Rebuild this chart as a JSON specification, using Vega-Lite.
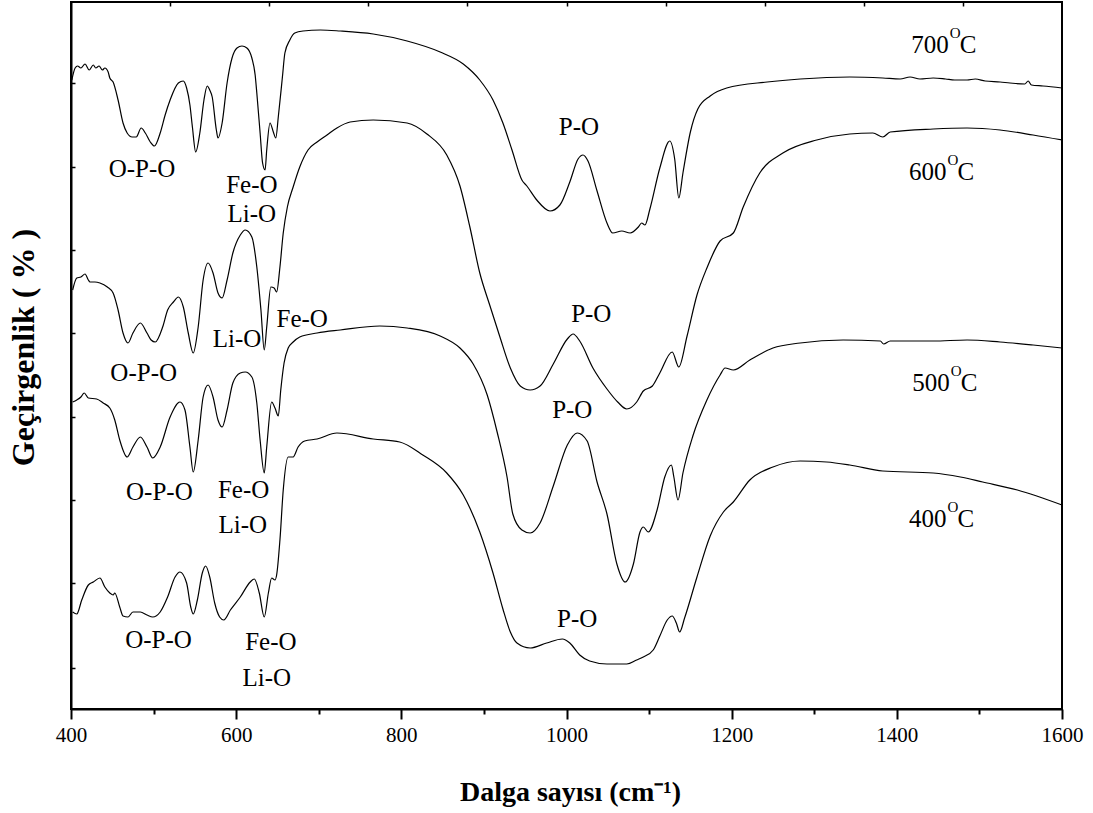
{
  "$schema": "https://vega.github.io/schema/vega-lite/v6.json",
  "width": 991,
  "height": 707,
  "autosize": {"type": "none"},
  "padding": {"left": 71, "top": 2, "right": 31, "bottom": 104},
  "background": "white",
  "config": {
    "view": {"stroke": "black", "strokeWidth": 2},
    "axis": {"grid": false},
    "font": "Liberation Serif"
  },
  "datasets": {
    "spectra": [
      {"wn":401,"T":629,"sample":"700"},{"wn":405,"T":641,"sample":"700"},{"wn":408,"T":643,"sample":"700"},{"wn":412,"T":641,"sample":"700"},{"wn":417,"T":645,"sample":"700"},{"wn":422,"T":639,"sample":"700"},{"wn":427,"T":644,"sample":"700"},{"wn":430,"T":641,"sample":"700"},{"wn":434,"T":643,"sample":"700"},{"wn":438,"T":639,"sample":"700"},{"wn":441,"T":641,"sample":"700"},{"wn":445,"T":637,"sample":"700"},{"wn":447,"T":631,"sample":"700"},{"wn":451,"T":627,"sample":"700"},{"wn":457,"T":609,"sample":"700"},{"wn":463,"T":586,"sample":"700"},{"wn":468,"T":576,"sample":"700"},{"wn":474,"T":572,"sample":"700"},{"wn":479,"T":572,"sample":"700"},{"wn":485,"T":581,"sample":"700"},{"wn":490,"T":576,"sample":"700"},{"wn":496,"T":567,"sample":"700"},{"wn":501,"T":563,"sample":"700"},{"wn":508,"T":576,"sample":"700"},{"wn":514,"T":594,"sample":"700"},{"wn":520,"T":609,"sample":"700"},{"wn":530,"T":626,"sample":"700"},{"wn":536,"T":628,"sample":"700"},{"wn":540,"T":621,"sample":"700"},{"wn":544,"T":604,"sample":"700"},{"wn":547,"T":582,"sample":"700"},{"wn":551,"T":557,"sample":"700"},{"wn":556,"T":576,"sample":"700"},{"wn":561,"T":609,"sample":"700"},{"wn":565,"T":623,"sample":"700"},{"wn":568,"T":619,"sample":"700"},{"wn":571,"T":612,"sample":"700"},{"wn":576,"T":579,"sample":"700"},{"wn":578,"T":571,"sample":"700"},{"wn":583,"T":586,"sample":"700"},{"wn":589,"T":626,"sample":"700"},{"wn":595,"T":651,"sample":"700"},{"wn":601,"T":661,"sample":"700"},{"wn":607,"T":663,"sample":"700"},{"wn":613,"T":661,"sample":"700"},{"wn":619,"T":651,"sample":"700"},{"wn":623,"T":634,"sample":"700"},{"wn":625,"T":616,"sample":"700"},{"wn":629,"T":576,"sample":"700"},{"wn":632,"T":546,"sample":"700"},{"wn":635,"T":539,"sample":"700"},{"wn":637,"T":559,"sample":"700"},{"wn":641,"T":586,"sample":"700"},{"wn":645,"T":577,"sample":"700"},{"wn":648,"T":571,"sample":"700"},{"wn":651,"T":592,"sample":"700"},{"wn":656,"T":632,"sample":"700"},{"wn":659,"T":656,"sample":"700"},{"wn":665,"T":669,"sample":"700"},{"wn":671,"T":676,"sample":"700"},{"wn":681,"T":678,"sample":"700"},{"wn":702,"T":679,"sample":"700"},{"wn":726,"T":678,"sample":"700"},{"wn":766,"T":675,"sample":"700"},{"wn":807,"T":668,"sample":"700"},{"wn":847,"T":657,"sample":"700"},{"wn":875,"T":645,"sample":"700"},{"wn":895,"T":629,"sample":"700"},{"wn":911,"T":609,"sample":"700"},{"wn":923,"T":586,"sample":"700"},{"wn":934,"T":559,"sample":"700"},{"wn":946,"T":529,"sample":"700"},{"wn":952,"T":523,"sample":"700"},{"wn":964,"T":509,"sample":"700"},{"wn":980,"T":498,"sample":"700"},{"wn":992,"T":504,"sample":"700"},{"wn":1004,"T":527,"sample":"700"},{"wn":1014,"T":550,"sample":"700"},{"wn":1020,"T":554,"sample":"700"},{"wn":1026,"T":548,"sample":"700"},{"wn":1037,"T":518,"sample":"700"},{"wn":1049,"T":486,"sample":"700"},{"wn":1056,"T":476,"sample":"700"},{"wn":1067,"T":478,"sample":"700"},{"wn":1077,"T":476,"sample":"700"},{"wn":1087,"T":482,"sample":"700"},{"wn":1091,"T":486,"sample":"700"},{"wn":1095,"T":484,"sample":"700"},{"wn":1101,"T":500,"sample":"700"},{"wn":1113,"T":541,"sample":"700"},{"wn":1125,"T":568,"sample":"700"},{"wn":1131,"T":550,"sample":"700"},{"wn":1136,"T":511,"sample":"700"},{"wn":1141,"T":536,"sample":"700"},{"wn":1150,"T":577,"sample":"700"},{"wn":1159,"T":600,"sample":"700"},{"wn":1174,"T":613,"sample":"700"},{"wn":1194,"T":621,"sample":"700"},{"wn":1243,"T":627,"sample":"700"},{"wn":1283,"T":630,"sample":"700"},{"wn":1343,"T":632,"sample":"700"},{"wn":1383,"T":631,"sample":"700"},{"wn":1404,"T":630,"sample":"700"},{"wn":1416,"T":632,"sample":"700"},{"wn":1428,"T":630,"sample":"700"},{"wn":1444,"T":631,"sample":"700"},{"wn":1459,"T":630,"sample":"700"},{"wn":1470,"T":629,"sample":"700"},{"wn":1485,"T":629,"sample":"700"},{"wn":1495,"T":630,"sample":"700"},{"wn":1507,"T":628,"sample":"700"},{"wn":1525,"T":627,"sample":"700"},{"wn":1537,"T":626,"sample":"700"},{"wn":1555,"T":625,"sample":"700"},{"wn":1559,"T":628,"sample":"700"},{"wn":1563,"T":624,"sample":"700"},{"wn":1577,"T":623,"sample":"700"},{"wn":1600,"T":621,"sample":"700"},

      {"wn":402,"T":419,"sample":"600"},{"wn":407,"T":431,"sample":"600"},{"wn":412,"T":432,"sample":"600"},{"wn":417,"T":435,"sample":"600"},{"wn":421,"T":429,"sample":"600"},{"wn":423,"T":427,"sample":"600"},{"wn":429,"T":427,"sample":"600"},{"wn":435,"T":426,"sample":"600"},{"wn":444,"T":422,"sample":"600"},{"wn":451,"T":416,"sample":"600"},{"wn":457,"T":399,"sample":"600"},{"wn":463,"T":376,"sample":"600"},{"wn":469,"T":366,"sample":"600"},{"wn":475,"T":376,"sample":"600"},{"wn":484,"T":386,"sample":"600"},{"wn":492,"T":376,"sample":"600"},{"wn":497,"T":369,"sample":"600"},{"wn":502,"T":367,"sample":"600"},{"wn":511,"T":382,"sample":"600"},{"wn":517,"T":399,"sample":"600"},{"wn":524,"T":407,"sample":"600"},{"wn":530,"T":412,"sample":"600"},{"wn":536,"T":402,"sample":"600"},{"wn":542,"T":376,"sample":"600"},{"wn":548,"T":356,"sample":"600"},{"wn":554,"T":382,"sample":"600"},{"wn":560,"T":429,"sample":"600"},{"wn":566,"T":446,"sample":"600"},{"wn":572,"T":436,"sample":"600"},{"wn":578,"T":416,"sample":"600"},{"wn":583,"T":411,"sample":"600"},{"wn":589,"T":429,"sample":"600"},{"wn":596,"T":456,"sample":"600"},{"wn":605,"T":474,"sample":"600"},{"wn":611,"T":479,"sample":"600"},{"wn":619,"T":472,"sample":"600"},{"wn":625,"T":442,"sample":"600"},{"wn":630,"T":399,"sample":"600"},{"wn":634,"T":359,"sample":"600"},{"wn":637,"T":382,"sample":"600"},{"wn":642,"T":422,"sample":"600"},{"wn":646,"T":421,"sample":"600"},{"wn":649,"T":417,"sample":"600"},{"wn":653,"T":442,"sample":"600"},{"wn":657,"T":476,"sample":"600"},{"wn":662,"T":502,"sample":"600"},{"wn":669,"T":522,"sample":"600"},{"wn":677,"T":542,"sample":"600"},{"wn":687,"T":559,"sample":"600"},{"wn":698,"T":567,"sample":"600"},{"wn":710,"T":574,"sample":"600"},{"wn":722,"T":581,"sample":"600"},{"wn":738,"T":587,"sample":"600"},{"wn":766,"T":589,"sample":"600"},{"wn":807,"T":586,"sample":"600"},{"wn":831,"T":575,"sample":"600"},{"wn":855,"T":554,"sample":"600"},{"wn":871,"T":523,"sample":"600"},{"wn":883,"T":482,"sample":"600"},{"wn":895,"T":436,"sample":"600"},{"wn":907,"T":404,"sample":"600"},{"wn":919,"T":373,"sample":"600"},{"wn":932,"T":341,"sample":"600"},{"wn":944,"T":323,"sample":"600"},{"wn":956,"T":319,"sample":"600"},{"wn":968,"T":323,"sample":"600"},{"wn":984,"T":345,"sample":"600"},{"wn":1001,"T":370,"sample":"600"},{"wn":1008,"T":375,"sample":"600"},{"wn":1016,"T":368,"sample":"600"},{"wn":1032,"T":341,"sample":"600"},{"wn":1049,"T":320,"sample":"600"},{"wn":1062,"T":307,"sample":"600"},{"wn":1073,"T":300,"sample":"600"},{"wn":1085,"T":307,"sample":"600"},{"wn":1093,"T":318,"sample":"600"},{"wn":1104,"T":323,"sample":"600"},{"wn":1113,"T":336,"sample":"600"},{"wn":1128,"T":357,"sample":"600"},{"wn":1136,"T":342,"sample":"600"},{"wn":1146,"T":373,"sample":"600"},{"wn":1158,"T":414,"sample":"600"},{"wn":1170,"T":441,"sample":"600"},{"wn":1186,"T":468,"sample":"600"},{"wn":1202,"T":476,"sample":"600"},{"wn":1214,"T":502,"sample":"600"},{"wn":1234,"T":536,"sample":"600"},{"wn":1262,"T":556,"sample":"600"},{"wn":1303,"T":569,"sample":"600"},{"wn":1343,"T":575,"sample":"600"},{"wn":1371,"T":576,"sample":"600"},{"wn":1383,"T":572,"sample":"600"},{"wn":1392,"T":577,"sample":"600"},{"wn":1444,"T":580,"sample":"600"},{"wn":1485,"T":581,"sample":"600"},{"wn":1525,"T":579,"sample":"600"},{"wn":1565,"T":574,"sample":"600"},{"wn":1600,"T":569,"sample":"600"},

      {"wn":402,"T":307,"sample":"500"},{"wn":407,"T":309,"sample":"500"},{"wn":412,"T":312,"sample":"500"},{"wn":416,"T":316,"sample":"500"},{"wn":421,"T":311,"sample":"500"},{"wn":431,"T":310,"sample":"500"},{"wn":439,"T":306,"sample":"500"},{"wn":447,"T":301,"sample":"500"},{"wn":453,"T":289,"sample":"500"},{"wn":459,"T":269,"sample":"500"},{"wn":468,"T":252,"sample":"500"},{"wn":475,"T":262,"sample":"500"},{"wn":484,"T":272,"sample":"500"},{"wn":492,"T":262,"sample":"500"},{"wn":499,"T":251,"sample":"500"},{"wn":508,"T":262,"sample":"500"},{"wn":520,"T":292,"sample":"500"},{"wn":532,"T":307,"sample":"500"},{"wn":538,"T":299,"sample":"500"},{"wn":544,"T":262,"sample":"500"},{"wn":548,"T":237,"sample":"500"},{"wn":554,"T":269,"sample":"500"},{"wn":560,"T":312,"sample":"500"},{"wn":566,"T":324,"sample":"500"},{"wn":572,"T":312,"sample":"500"},{"wn":578,"T":289,"sample":"500"},{"wn":583,"T":282,"sample":"500"},{"wn":589,"T":299,"sample":"500"},{"wn":596,"T":326,"sample":"500"},{"wn":605,"T":336,"sample":"500"},{"wn":611,"T":337,"sample":"500"},{"wn":619,"T":332,"sample":"500"},{"wn":625,"T":306,"sample":"500"},{"wn":629,"T":269,"sample":"500"},{"wn":634,"T":236,"sample":"500"},{"wn":637,"T":262,"sample":"500"},{"wn":643,"T":307,"sample":"500"},{"wn":647,"T":301,"sample":"500"},{"wn":651,"T":293,"sample":"500"},{"wn":654,"T":319,"sample":"500"},{"wn":658,"T":346,"sample":"500"},{"wn":663,"T":361,"sample":"500"},{"wn":669,"T":367,"sample":"500"},{"wn":677,"T":372,"sample":"500"},{"wn":698,"T":376,"sample":"500"},{"wn":726,"T":379,"sample":"500"},{"wn":774,"T":383,"sample":"500"},{"wn":807,"T":381,"sample":"500"},{"wn":847,"T":373,"sample":"500"},{"wn":871,"T":361,"sample":"500"},{"wn":887,"T":345,"sample":"500"},{"wn":904,"T":314,"sample":"500"},{"wn":916,"T":277,"sample":"500"},{"wn":928,"T":232,"sample":"500"},{"wn":935,"T":195,"sample":"500"},{"wn":946,"T":179,"sample":"500"},{"wn":956,"T":176,"sample":"500"},{"wn":968,"T":186,"sample":"500"},{"wn":984,"T":223,"sample":"500"},{"wn":1001,"T":264,"sample":"500"},{"wn":1013,"T":276,"sample":"500"},{"wn":1025,"T":268,"sample":"500"},{"wn":1037,"T":227,"sample":"500"},{"wn":1049,"T":195,"sample":"500"},{"wn":1061,"T":145,"sample":"500"},{"wn":1071,"T":127,"sample":"500"},{"wn":1081,"T":145,"sample":"500"},{"wn":1089,"T":177,"sample":"500"},{"wn":1093,"T":182,"sample":"500"},{"wn":1099,"T":177,"sample":"500"},{"wn":1110,"T":200,"sample":"500"},{"wn":1119,"T":232,"sample":"500"},{"wn":1127,"T":244,"sample":"500"},{"wn":1130,"T":232,"sample":"500"},{"wn":1135,"T":209,"sample":"500"},{"wn":1141,"T":236,"sample":"500"},{"wn":1153,"T":273,"sample":"500"},{"wn":1170,"T":309,"sample":"500"},{"wn":1186,"T":334,"sample":"500"},{"wn":1192,"T":341,"sample":"500"},{"wn":1202,"T":339,"sample":"500"},{"wn":1222,"T":349,"sample":"500"},{"wn":1250,"T":361,"sample":"500"},{"wn":1283,"T":366,"sample":"500"},{"wn":1335,"T":369,"sample":"500"},{"wn":1380,"T":368,"sample":"500"},{"wn":1384,"T":365,"sample":"500"},{"wn":1392,"T":368,"sample":"500"},{"wn":1444,"T":368,"sample":"500"},{"wn":1485,"T":369,"sample":"500"},{"wn":1525,"T":367,"sample":"500"},{"wn":1565,"T":364,"sample":"500"},{"wn":1600,"T":361,"sample":"500"},

      {"wn":402,"T":97,"sample":"400"},{"wn":407,"T":95,"sample":"400"},{"wn":413,"T":109,"sample":"400"},{"wn":421,"T":124,"sample":"400"},{"wn":427,"T":127,"sample":"400"},{"wn":435,"T":131,"sample":"400"},{"wn":441,"T":122,"sample":"400"},{"wn":447,"T":116,"sample":"400"},{"wn":451,"T":114,"sample":"400"},{"wn":453,"T":116,"sample":"400"},{"wn":459,"T":102,"sample":"400"},{"wn":463,"T":93,"sample":"400"},{"wn":469,"T":92,"sample":"400"},{"wn":475,"T":97,"sample":"400"},{"wn":484,"T":97,"sample":"400"},{"wn":492,"T":94,"sample":"400"},{"wn":499,"T":92,"sample":"400"},{"wn":508,"T":97,"sample":"400"},{"wn":517,"T":112,"sample":"400"},{"wn":526,"T":132,"sample":"400"},{"wn":532,"T":137,"sample":"400"},{"wn":540,"T":126,"sample":"400"},{"wn":545,"T":102,"sample":"400"},{"wn":548,"T":95,"sample":"400"},{"wn":553,"T":109,"sample":"400"},{"wn":559,"T":136,"sample":"400"},{"wn":563,"T":143,"sample":"400"},{"wn":568,"T":132,"sample":"400"},{"wn":574,"T":106,"sample":"400"},{"wn":580,"T":92,"sample":"400"},{"wn":585,"T":89,"sample":"400"},{"wn":593,"T":99,"sample":"400"},{"wn":605,"T":112,"sample":"400"},{"wn":617,"T":127,"sample":"400"},{"wn":622,"T":130,"sample":"400"},{"wn":628,"T":116,"sample":"400"},{"wn":634,"T":92,"sample":"400"},{"wn":639,"T":116,"sample":"400"},{"wn":643,"T":131,"sample":"400"},{"wn":647,"T":129,"sample":"400"},{"wn":649,"T":134,"sample":"400"},{"wn":653,"T":169,"sample":"400"},{"wn":657,"T":219,"sample":"400"},{"wn":663,"T":252,"sample":"400"},{"wn":669,"T":252,"sample":"400"},{"wn":675,"T":262,"sample":"400"},{"wn":683,"T":268,"sample":"400"},{"wn":698,"T":270,"sample":"400"},{"wn":722,"T":276,"sample":"400"},{"wn":766,"T":270,"sample":"400"},{"wn":798,"T":267,"sample":"400"},{"wn":826,"T":254,"sample":"400"},{"wn":855,"T":236,"sample":"400"},{"wn":875,"T":214,"sample":"400"},{"wn":895,"T":177,"sample":"400"},{"wn":911,"T":136,"sample":"400"},{"wn":923,"T":100,"sample":"400"},{"wn":932,"T":77,"sample":"400"},{"wn":940,"T":66,"sample":"400"},{"wn":956,"T":61,"sample":"400"},{"wn":976,"T":66,"sample":"400"},{"wn":995,"T":70,"sample":"400"},{"wn":1004,"T":66,"sample":"400"},{"wn":1016,"T":54,"sample":"400"},{"wn":1028,"T":48,"sample":"400"},{"wn":1049,"T":45,"sample":"400"},{"wn":1073,"T":45,"sample":"400"},{"wn":1085,"T":49,"sample":"400"},{"wn":1093,"T":52,"sample":"400"},{"wn":1105,"T":59,"sample":"400"},{"wn":1113,"T":73,"sample":"400"},{"wn":1122,"T":89,"sample":"400"},{"wn":1128,"T":93,"sample":"400"},{"wn":1133,"T":86,"sample":"400"},{"wn":1137,"T":77,"sample":"400"},{"wn":1143,"T":91,"sample":"400"},{"wn":1158,"T":132,"sample":"400"},{"wn":1174,"T":173,"sample":"400"},{"wn":1190,"T":197,"sample":"400"},{"wn":1202,"T":207,"sample":"400"},{"wn":1222,"T":229,"sample":"400"},{"wn":1250,"T":242,"sample":"400"},{"wn":1283,"T":248,"sample":"400"},{"wn":1315,"T":247,"sample":"400"},{"wn":1343,"T":244,"sample":"400"},{"wn":1383,"T":238,"sample":"400"},{"wn":1444,"T":236,"sample":"400"},{"wn":1477,"T":232,"sample":"400"},{"wn":1504,"T":227,"sample":"400"},{"wn":1546,"T":219,"sample":"400"},{"wn":1600,"T":204,"sample":"400"}
    ],
    "bands": [
      {"wn":486,"T":532,"label":"O-P-O"},{"wn":619,"T":516,"label":"Fe-O"},{"wn":619,"T":487,"label":"Li-O"},{"wn":1015,"T":574,"label":"P-O"},
      {"wn":601,"T":362,"label":"Li-O"},{"wn":680,"T":382,"label":"Fe-O"},{"wn":488,"T":328,"label":"O-P-O"},{"wn":1030,"T":387,"label":"P-O"},
      {"wn":507,"T":209,"label":"O-P-O"},{"wn":609,"T":211,"label":"Fe-O"},{"wn":608,"T":176,"label":"Li-O"},{"wn":1007,"T":291,"label":"P-O"},
      {"wn":506,"T":61,"label":"O-P-O"},{"wn":642,"T":59,"label":"Fe-O"},{"wn":637,"T":23,"label":"Li-O"},{"wn":1013,"T":82,"label":"P-O"}
    ],
    "temps": [
      {"wn":1463,"T":656,"num":"700"},{"wn":1460,"T":529,"num":"600"},{"wn":1464,"T":318,"num":"500"},{"wn":1460,"T":182,"num":"400"}
    ]
  },
  "layer": [
    {
      "data": {"name": "spectra"},
      "mark": {"type": "line", "color": "black", "strokeWidth": 1.2, "interpolate": "monotone"},
      "encoding": {
        "x": {
          "field": "wn", "type": "quantitative",
          "scale": {"domain": [400, 1600], "nice": false, "zero": false},
          "axis": {
            "orient": "bottom",
            "values": [400, 500, 600, 700, 800, 900, 1000, 1100, 1200, 1300, 1400, 1500, 1600],
            "format": "d",
            "labelExpr": "datum.value % 200 === 0 ? datum.label : ''",
            "labelFont": "Liberation Serif", "labelFontSize": 21, "labelColor": "black",
            "labelPadding": 5, "labelFlush": false, "labelOverlap": false,
            "domainColor": "black", "domainWidth": 2,
            "tickColor": "black", "tickWidth": 2,
            "tickSize": {"condition": {"test": "datum.value % 200 === 0", "value": 10}, "value": 5},
            "title": "Dalga sayısı (cm⁻¹)",
            "titleFont": "Liberation Serif", "titleFontSize": 28, "titleFontWeight": "bold", "titleColor": "black",
            "titleBaseline": "alphabetic", "titleX": 499, "titleY": 91
          }
        },
        "y": {
          "field": "T", "type": "quantitative",
          "scale": {"domain": [0, 707], "nice": false, "zero": false},
          "axis": {
            "orient": "left",
            "values": [41, 126, 209, 292, 376, 459, 542, 626],
            "labels": false,
            "tickSize": -4, "tickColor": "black", "tickWidth": 1.5,
            "domainColor": "black", "domainWidth": 2,
            "title": "Geçirgenlik ( % )",
            "titleFont": "Liberation Serif", "titleFontSize": 32, "titleFontWeight": "bold", "titleColor": "black",
            "titleBaseline": "alphabetic", "titleAngle": 270, "titleX": -38, "titleY": 345
          }
        },
        "detail": {"field": "sample"}
      }
    },
    {
      "data": {"name": "bands"},
      "mark": {"type": "text", "font": "Liberation Serif", "fontSize": 25, "color": "black", "align": "center", "baseline": "alphabetic"},
      "encoding": {
        "x": {
          "field": "wn", "type": "quantitative",
          "scale": {"domain": [400, 1600], "nice": false, "zero": false},
          "axis": {
            "orient": "top",
            "values": [520, 640, 760, 880, 1000, 1120, 1240, 1360, 1480],
            "labels": false, "domain": false, "title": null,
            "tickSize": -4, "tickColor": "black", "tickWidth": 1.5
          }
        },
        "y": {"field": "T", "type": "quantitative", "scale": {"domain": [0, 707], "nice": false, "zero": false}, "axis": null},
        "text": {"field": "label"}
      }
    },
    {
      "data": {"name": "temps"},
      "mark": {"type": "text", "font": "Liberation Serif", "fontSize": 25, "color": "black", "align": "right", "baseline": "alphabetic"},
      "encoding": {
        "x": {"field": "wn", "type": "quantitative", "scale": {"domain": [400, 1600], "nice": false, "zero": false}, "axis": null},
        "y": {"field": "T", "type": "quantitative", "scale": {"domain": [0, 707], "nice": false, "zero": false}, "axis": null},
        "text": {"field": "num"}
      }
    },
    {
      "data": {"name": "temps"},
      "mark": {"type": "text", "font": "Liberation Serif", "fontSize": 15, "color": "black", "align": "left", "baseline": "alphabetic", "dx": 1, "dy": -15, "text": "O"},
      "encoding": {
        "x": {"field": "wn", "type": "quantitative", "scale": {"domain": [400, 1600], "nice": false, "zero": false}, "axis": null},
        "y": {"field": "T", "type": "quantitative", "scale": {"domain": [0, 707], "nice": false, "zero": false}, "axis": null}
      }
    },
    {
      "data": {"name": "temps"},
      "mark": {"type": "text", "font": "Liberation Serif", "fontSize": 25, "color": "black", "align": "left", "baseline": "alphabetic", "dx": 11, "text": "C"},
      "encoding": {
        "x": {"field": "wn", "type": "quantitative", "scale": {"domain": [400, 1600], "nice": false, "zero": false}, "axis": null},
        "y": {"field": "T", "type": "quantitative", "scale": {"domain": [0, 707], "nice": false, "zero": false}, "axis": null}
      }
    }
  ],
  "resolve": {"axis": {"x": "independent", "y": "independent"}}
}
